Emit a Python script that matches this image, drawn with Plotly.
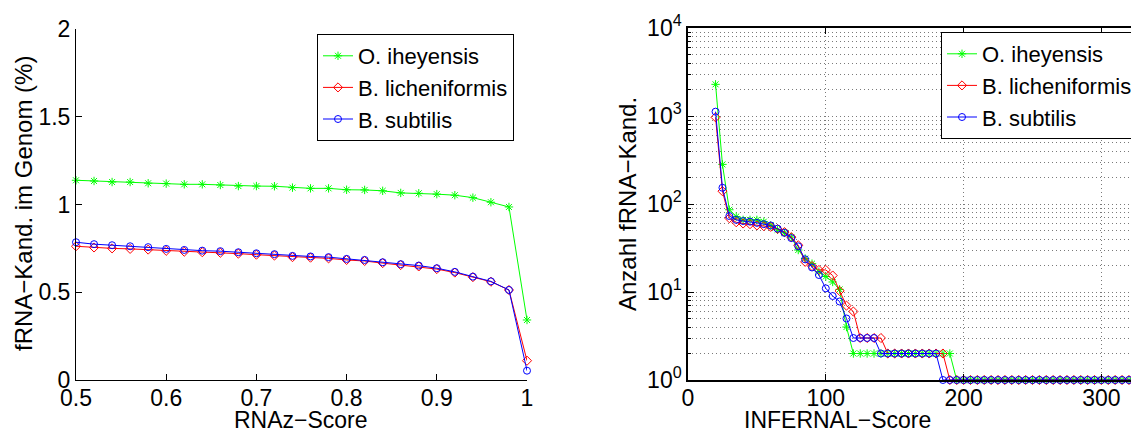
import plotly.graph_objects as go

# ---------------- data ----------------
rnaz_score = [0.50, 0.52, 0.54, 0.56, 0.58, 0.60, 0.62, 0.64, 0.66, 0.68, 0.70, 0.72, 0.74,
              0.76, 0.78, 0.80, 0.82, 0.84, 0.86, 0.88, 0.90, 0.92, 0.94, 0.96, 0.98, 1.00]
pct_iheyensis = [1.138, 1.134, 1.128, 1.128, 1.121, 1.119, 1.115, 1.115, 1.111, 1.105, 1.105, 1.104, 1.096,
                 1.092, 1.092, 1.084, 1.083, 1.078, 1.066, 1.064, 1.059, 1.053, 1.039, 1.013, 0.986, 0.342]
pct_licheniformis = [0.762, 0.755, 0.750, 0.747, 0.743, 0.736, 0.731, 0.728, 0.725, 0.720, 0.714, 0.709, 0.700,
                     0.697, 0.693, 0.684, 0.678, 0.666, 0.655, 0.647, 0.632, 0.612, 0.586, 0.560, 0.513, 0.110]
pct_subtilis = [0.785, 0.774, 0.768, 0.762, 0.757, 0.747, 0.741, 0.737, 0.734, 0.728, 0.722, 0.717, 0.707,
                0.704, 0.700, 0.690, 0.684, 0.671, 0.660, 0.652, 0.637, 0.616, 0.589, 0.562, 0.513, 0.053]

infernal_score = list(range(20, 330, 5))  # 20 .. 325
cnt_iheyensis_head = [2290, 282, 86, 72, 66, 66, 66, 63, 57, 51, 47, 42, 30, 24, 21, 17, 15, 13, 10.7, 4]
cnt_licheniformis_head = [967, 140, 69, 62, 60, 59, 57, 56, 55, 52, 48, 42, 34, 22, 19.7, 17.8, 17.8, 15.4, 10.3, 7,
                          6, 3, 3, 3, 3]
cnt_subtilis_head = [1120, 153, 73, 66, 64, 63, 61, 59, 57, 52.5, 47, 41, 33, 23.5, 19, 15.6, 11, 9, 7.8, 5,
                     3, 3, 3, 3]
# plateaus: (value, last score carrying that value)
iheyensis_plateaus = [(2, 190), (1, 325)]
licheniformis_plateaus = [(2, 185), (1, 325)]
subtilis_plateaus = [(2, 180), (1, 325)]

legend_names = ["O. iheyensis", "B. licheniformis", "B. subtilis"]
left_yticks = [0, 0.5, 1, 1.5, 2]
left_yticklabels = ["0", "0.5", "1", "1.5", "2"]
left_xticks = [0.5, 0.6, 0.7, 0.8, 0.9, 1.0]
left_xticklabels = ["0.5", "0.6", "0.7", "0.8", "0.9", "1"]
right_xticks = [0, 100, 200, 300]
right_yticks = [1, 10, 100, 1000, 10000]
right_yticklabels = ["10<sup>0</sup>", "10<sup>1</sup>", "10<sup>2</sup>", "10<sup>3</sup>", "10<sup>4</sup>"]


def expand(head, plateaus):
    vals = list(head)
    for v, last in plateaus:
        while len(vals) < len(infernal_score) and infernal_score[len(vals)] <= last:
            vals.append(v)
    return vals[:len(infernal_score)]


cnt_iheyensis = expand(cnt_iheyensis_head, iheyensis_plateaus)
cnt_licheniformis = expand(cnt_licheniformis_head, licheniformis_plateaus)
cnt_subtilis = expand(cnt_subtilis_head, subtilis_plateaus)

# ---------------- styling ----------------
PAGE_W, PAGE_H = 1139, 432
OFF = 8                      # default body margin of the html page
FW, FH = PAGE_W - OFF, PAGE_H - OFF
FONT = "Liberation Sans, Arial, Helvetica, sans-serif"
GREEN, RED, BLUE = "#00ff00", "#ff0000", "#0000ff"
styles = [
    dict(color=GREEN, symbol="asterisk-open", size=7),
    dict(color=RED, symbol="diamond-open", size=7),
    dict(color=BLUE, symbol="circle-open", size=7),
]

fig = go.Figure()

left_series = [pct_iheyensis, pct_licheniformis, pct_subtilis]
for name, ys, st in zip(legend_names, left_series, styles):
    fig.add_trace(go.Scatter(
        x=rnaz_score, y=ys, name=name, mode="lines+markers",
        line=dict(color=st["color"], width=1),
        marker=dict(symbol=st["symbol"], size=st["size"], color=st["color"],
                    line=dict(color=st["color"], width=1)),
        xaxis="x", yaxis="y", legend="legend", cliponaxis=False,
    ))

right_series = [cnt_iheyensis, cnt_licheniformis, cnt_subtilis]
for name, ys, st in zip(legend_names, right_series, styles):
    fig.add_trace(go.Scatter(
        x=infernal_score, y=ys, name=name, mode="lines+markers",
        line=dict(color=st["color"], width=1),
        marker=dict(symbol=st["symbol"], size=st["size"], color=st["color"],
                    line=dict(color=st["color"], width=1)),
        xaxis="x2", yaxis="y2", legend="legend2", cliponaxis=False,
    ))

# page pixel -> paper fraction
px = lambda v: (v - OFF) / FW
py = lambda v: 1 - (v - OFF) / FH

tickfont = dict(family=FONT, size=23, color="black")
GRID = "#7a7a7a"
DOT = "1px,3px"

# right x axis: 0 at page x 688, 1.378 px per unit, running to the page edge
x2_left = 688
x2_per_unit = 1.378
x2_max = (PAGE_W - x2_left) / x2_per_unit

minor_vals = [m * 10 ** e for e in range(0, 4) for m in range(2, 10)]

legend_font = dict(family=FONT, size=22, color="black")

fig.update_layout(
    width=FW, height=FH,
    margin=dict(l=0, r=0, t=0, b=0, autoexpand=False),
    paper_bgcolor="white", plot_bgcolor="white",
    font=dict(family=FONT, size=22, color="black"),
    showlegend=True,
    xaxis=dict(
        domain=[px(76), px(527)], range=[0.5, 1.0], anchor="y", automargin=False,
        tickvals=left_xticks, ticktext=left_xticklabels,
        ticks="inside", ticklen=6, tickcolor="black", ticklabelstandoff=-3,
        showline=True, linecolor="black", linewidth=1,
        showgrid=False, zeroline=False, tickfont=tickfont,
    ),
    yaxis=dict(
        domain=[py(380), py(29)], range=[0, 2], anchor="x", automargin=False,
        tickvals=left_yticks, ticktext=left_yticklabels,
        ticks="inside", ticklen=6, tickcolor="black",
        showline=True, linecolor="black", linewidth=1,
        showgrid=False, zeroline=False, tickfont=tickfont,
    ),
    xaxis2=dict(
        domain=[px(x2_left), 1.0], range=[0, x2_max], anchor="y2", automargin=False,
        tickvals=right_xticks, ticks="inside", ticklen=6, tickcolor="black", ticklabelstandoff=-3,
        showline=True, linecolor="black", linewidth=1.5, mirror="ticks",
        showgrid=True, gridcolor=GRID, griddash=DOT, gridwidth=1,
        zeroline=False, tickfont=tickfont,
    ),
    yaxis2=dict(
        domain=[py(380), py(28)], type="log", range=[0, 4], anchor="x2", automargin=False,
        tickvals=right_yticks, ticktext=right_yticklabels,
        ticks="inside", ticklen=6, tickcolor="black",
        showline=True, linecolor="black", linewidth=1.5, mirror=False,
        showgrid=True, gridcolor=GRID, griddash=DOT, gridwidth=1,
        minor=dict(tickvals=minor_vals, ticks="inside", ticklen=3, tickcolor="black",
                   showgrid=True, gridcolor=GRID, griddash=DOT, gridwidth=1),
        zeroline=False, tickfont=tickfont,
    ),
    legend=dict(
        x=px(317), y=py(34), xanchor="left", yanchor="top",
        bgcolor="white", bordercolor="black", borderwidth=1,
        font=legend_font, itemwidth=30, tracegroupgap=0,
    ),
    legend2=dict(
        x=px(1138), y=py(32), xanchor="right", yanchor="top",
        bgcolor="white", bordercolor="black", borderwidth=1,
        font=legend_font, itemwidth=30, tracegroupgap=0,
    ),
    annotations=[
        dict(text="RNAz\u2212Score", x=px(301), y=py(420), xref="paper", yref="paper",
             showarrow=False, xanchor="center", yanchor="middle",
             font=dict(family=FONT, size=23)),
        dict(text="INFERNAL\u2212Score", x=px(837), y=py(420), xref="paper", yref="paper",
             showarrow=False, xanchor="center", yanchor="middle",
             font=dict(family=FONT, size=23)),
        dict(text="fRNA\u2212Kand. im Genom (%)", x=px(23), y=py(204), xref="paper", yref="paper",
             showarrow=False, xanchor="center", yanchor="middle", textangle=-90,
             font=dict(family=FONT, size=24)),
        dict(text="Anzahl fRNA\u2212Kand.", x=px(627), y=py(204), xref="paper", yref="paper",
             showarrow=False, xanchor="center", yanchor="middle", textangle=-90,
             font=dict(family=FONT, size=24)),
    ],
)

fig.write_html("out.html")
